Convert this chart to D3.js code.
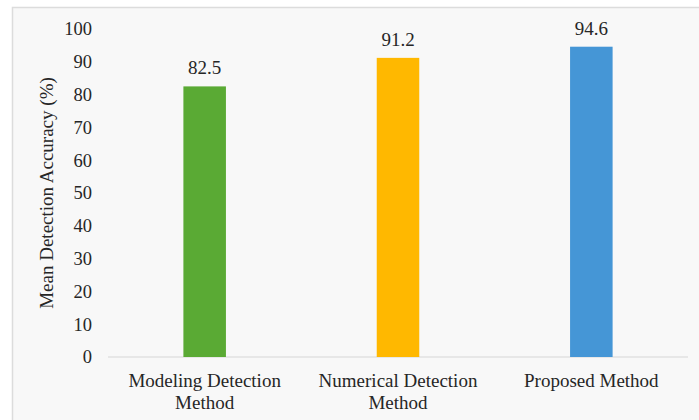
<!DOCTYPE html>
<html>
<head>
<meta charset="utf-8">
<script src="https://cdn.jsdelivr.net/npm/d3@7"></script>
<style>
  html, body { margin: 0; padding: 0; background: #ffffff; }
  svg { display: block; }
  svg text { font-family: "Liberation Serif", "Times New Roman", serif !important; fill: #262626; }
</style>
</head>
<body>
<svg id="chart" width="699" height="420"></svg>
<script>
// Mean detection accuracy per method
const categories = ["Modeling Detection Method", "Numerical Detection Method", "Proposed Method"];
const labelLines = [["Modeling Detection", "Method"], ["Numerical Detection", "Method"], ["Proposed Method"]];
const accuracy = [82.5, 91.2, 94.6];
const barColors = ["#5aaa34", "#ffb800", "#4596d6"];
const yTicks = [0, 10, 20, 30, 40, 50, 60, 70, 80, 90, 100];

const width = 699, height = 420;
const margin = { top: 29, right: 11, bottom: 63, left: 108 };

const svg = d3.select("#chart");

// figure panel with light frame
svg.append("rect")
  .attr("x", 12.5).attr("y", 7.5)
  .attr("width", width + 10).attr("height", height + 10)
  .attr("fill", "#f8f8f8")
  .attr("stroke", "#dcdcdc")
  .attr("stroke-width", 1.5);

const x = d3.scaleBand()
  .domain(categories)
  .range([margin.left, width - margin.right])
  .paddingInner(0.78)
  .paddingOuter(0.39);

const y = d3.scaleLinear()
  .domain([0, 100])
  .range([height - margin.bottom, margin.top]);

// y axis: labels only
const yAxis = svg.append("g")
  .attr("transform", `translate(${margin.left},0)`)
  .call(d3.axisLeft(y).tickValues(yTicks).tickSize(0).tickPadding(16));
yAxis.select(".domain").remove();
yAxis.selectAll("text")
  .style("font-size", "18.5px");

// baseline
svg.append("line")
  .attr("x1", margin.left).attr("x2", width - margin.right)
  .attr("y1", y(0)).attr("y2", y(0))
  .attr("stroke", "#d6d6d6").attr("stroke-width", 1.2);

// bars
svg.append("g").selectAll("rect")
  .data(categories)
  .join("rect")
  .attr("x", d => x(d))
  .attr("width", x.bandwidth())
  .attr("y", (d, i) => y(accuracy[i]))
  .attr("height", (d, i) => y(0) - y(accuracy[i]))
  .attr("fill", (d, i) => barColors[i]);

// value labels
svg.append("g").selectAll("text")
  .data(categories)
  .join("text")
  .attr("x", d => x(d) + x.bandwidth() / 2)
  .attr("y", (d, i) => y(accuracy[i]) - 12)
  .attr("text-anchor", "middle")
  .style("font-size", "19px")
  .text((d, i) => accuracy[i].toFixed(1));

// category labels (wrapped)
const xl = svg.append("g").selectAll("text")
  .data(categories)
  .join("text")
  .attr("x", d => x(d) + x.bandwidth() / 2)
  .attr("y", y(0) + 30)
  .attr("text-anchor", "middle")
  .style("font-size", "19px");
xl.each(function (d, i) {
  const t = d3.select(this);
  labelLines[i].forEach((line, k) => {
    t.append("tspan")
      .attr("x", x(d) + x.bandwidth() / 2)
      .attr("dy", k === 0 ? 0 : 22)
      .text(line);
  });
});

// y axis title
svg.append("text")
  .attr("transform", `translate(53,${(y(0) + y(100)) / 2}) rotate(-90)`)
  .attr("text-anchor", "middle")
  .style("font-size", "19px")
  .text("Mean Detection Accuracy (%)");
</script>
</body>
</html>
